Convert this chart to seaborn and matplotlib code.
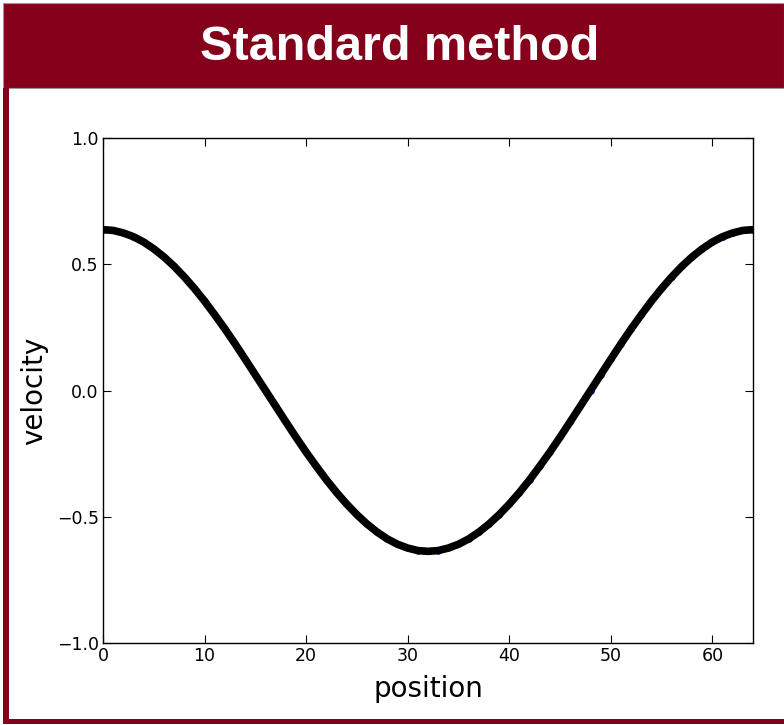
import numpy as np
import pandas as pd
import matplotlib
matplotlib.use("Agg")
import matplotlib.pyplot as plt
import seaborn as sns
from matplotlib.patches import Rectangle

title_text = "Standard method"
x_label = "position"
y_label = "velocity"

position = list(range(65))
velocity = [
    0.637, 0.634, 0.624, 0.609, 0.588, 0.561, 0.529, 0.492, 0.450, 0.404,
    0.354, 0.300, 0.244, 0.185, 0.124, 0.062, 0.000,
    -0.062, -0.124, -0.185, -0.244, -0.300, -0.354, -0.404, -0.450, -0.492,
    -0.529, -0.561, -0.588, -0.609, -0.624, -0.634, -0.637,
    -0.634, -0.624, -0.609, -0.588, -0.561, -0.529, -0.492, -0.450, -0.404,
    -0.354, -0.300, -0.244, -0.185, -0.124, -0.062, 0.000,
    0.062, 0.124, 0.185, 0.244, 0.300, 0.354, 0.404, 0.450, 0.492, 0.529,
    0.561, 0.588, 0.609, 0.624, 0.634, 0.637,
]
x_ticks = [0, 10, 20, 30, 40, 50, 60]
y_ticks = [-1.0, -0.5, 0.0, 0.5, 1.0]

sns.set_style("ticks")
plt.rcParams['font.family'] = ['DejaVu Sans']
plt.rcParams['axes.unicode_minus'] = True

df = pd.DataFrame({"position": position, "velocity": velocity})

W, H = 784, 725
fig = plt.figure(figsize=(W / 100, H / 100), dpi=100)
fig.patch.set_facecolor("white")

red = "#85001A"
# banner
fig.add_artist(Rectangle((3 / W, 1 - 88 / H), (W - 3) / W, 85 / H,
                         transform=fig.transFigure, facecolor=red, edgecolor="#999999", lw=0.8))
# left border
fig.add_artist(Rectangle((3 / W, 2 / H), 6 / W, (H - 90) / H,
                         transform=fig.transFigure, facecolor=red, edgecolor="none"))
# bottom border
fig.add_artist(Rectangle((3 / W, 1 / H), (W - 3) / W, 5 / H,
                         transform=fig.transFigure, facecolor=red, edgecolor="none"))
fig.text(400 / W, 1 - 47 / H, title_text, color="white", fontsize=35, fontweight="bold",
         family=["Liberation Sans Narrow", "Liberation Sans"], ha="center", va="center")

ax = fig.add_axes([103 / W, 1 - 643 / H, 650 / W, 505 / H])
sns.scatterplot(data=df, x="position", y="velocity", ax=ax, color="#1010ff",
                s=22, edgecolor="#1010ff", linewidth=0, zorder=2, legend=False)
sns.lineplot(data=df, x="position", y="velocity", ax=ax, color="black",
             linewidth=5.5, zorder=3)

ax.set_xlim(0, 64)
ax.set_ylim(-1.0, 1.0)
ax.set_xticks(x_ticks)
ax.set_yticks(y_ticks)
ax.set_xticklabels([str(t) for t in x_ticks])
ax.set_yticklabels(["\u22121.0", "\u22120.5", "0.0", "0.5", "1.0"])
ax.tick_params(direction="in", length=6, width=0.8, labelsize=12.5, colors="black",
               top=True, right=True, pad=3)
for s in ax.spines.values():
    s.set_color("black")
    s.set_linewidth(1.0)
    s.set_visible(True)
ax.set_xlabel(x_label, fontsize=20, labelpad=7, color="black")
ax.set_ylabel(y_label, fontsize=20, labelpad=6, color="black")

fig.savefig("out.png", dpi=100)
